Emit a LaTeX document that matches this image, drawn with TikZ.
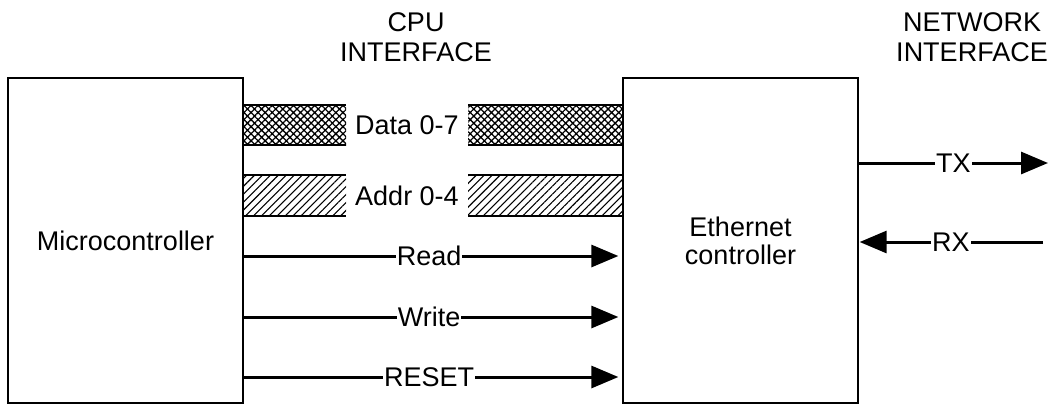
\documentclass[tikz,border=0pt]{standalone}
\usepackage{fontspec}
\setmainfont{Liberation Sans}
\usetikzlibrary{arrows.meta,patterns.meta}

\begin{document}
\begin{tikzpicture}[x=1bp,y=-1bp,
  every node/.style={font=\fontsize{27bp}{30bp}\selectfont, text=black},
  block/.style={draw, line width=1.3bp, minimum width=235bp, minimum height=325bp,
                align=center, inner sep=0pt},
  signal/.style={line width=3bp, -{Triangle[length=27bp,width=22bp]}},
  lbl/.style={fill=white, inner xsep=1bp, inner ysep=0pt},
  title/.style={align=center, inner sep=0pt},
  busedge/.style={line width=1.4bp},
  databus/.style={pattern={Hatch[angle=45,distance=5bp,line width=1.3bp]}},
  addrbus/.style={pattern={Lines[angle=45,distance=5.6bp,line width=1.1bp]}}
]
\useasboundingbox (0,0) rectangle (1050,406);

% headings
\node[title] (cpuif) at (416,37) {CPU\\[0bp]INTERFACE};
\node[title] (netif) at (972,37) {NETWORK\\[0bp]INTERFACE};

% blocks
\node[block] (mcu) at (125.5,240.5) {Microcontroller};
\node[block] (eth) at (740.5,240.5) {Ethernet\\[-2bp]controller};

% data bus
\node[inner sep=0pt] (data) at (407,125) {Data 0-7};
\fill[databus] (mcu.east |- 0,105) rectangle (346,145);
\fill[databus] (468,105) rectangle (eth.west |- 0,145);
\draw[busedge] (mcu.east |- 0,105) -- (346,105) (mcu.east |- 0,145) -- (346,145);
\draw[busedge] (468,105) -- (eth.west |- 0,105) (468,145) -- (eth.west |- 0,145);

% address bus
\node[inner sep=0pt] (addr) at (407,196) {Addr 0-4};
\fill[addrbus] (mcu.east |- 0,175) rectangle (346,216);
\fill[addrbus] (468,175) rectangle (eth.west |- 0,216);
\draw[busedge] (mcu.east |- 0,175) -- (346,175) (mcu.east |- 0,216) -- (346,216);
\draw[busedge] (468,175) -- (eth.west |- 0,175) (468,216) -- (eth.west |- 0,216);

% control lines
\draw[signal, shorten >=4bp] (mcu.east |- 0,256) -- (eth.west |- 0,256)
  node[lbl, pos=0.49] (rd) {Read};
\draw[signal, shorten >=4bp] (mcu.east |- 0,317) -- (eth.west |- 0,317)
  node[lbl, pos=0.49] (wr) {Write};
\draw[signal, shorten >=4bp] (mcu.east |- 0,377) -- (eth.west |- 0,377)
  node[lbl, pos=0.49] (rst) {RESET};

% network side
\coordinate (txend) at (1048,163);
\coordinate (rxstart) at (1043,242);
\draw[signal] (eth.east |- txend) -- (txend) node[lbl, pos=0.5] (tx) {TX};
\draw[signal, shorten >=1bp] (rxstart) -- (eth.east |- rxstart) node[lbl, pos=0.5] (rx) {RX};
\end{tikzpicture}
\end{document}
